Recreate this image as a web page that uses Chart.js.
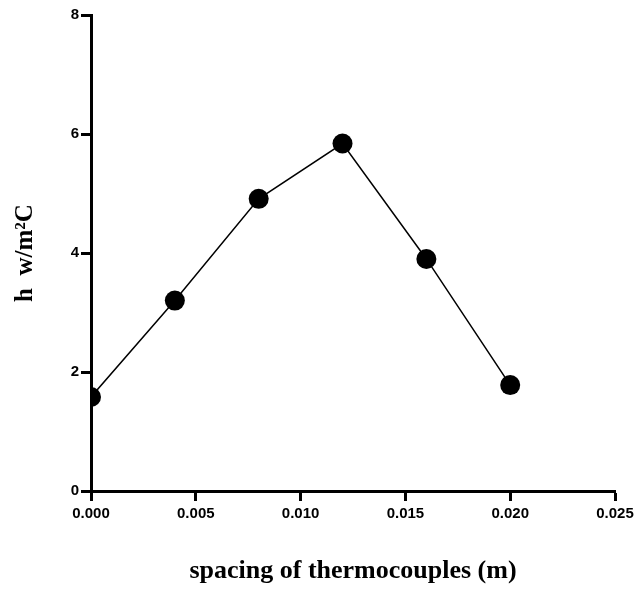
<!DOCTYPE html>
<html>
<head>
<meta charset="utf-8">
<script src="https://cdn.jsdelivr.net/npm/chart.js@4/dist/chart.umd.min.js"></script>
<style>
  html, body { margin: 0; padding: 0; background: #fff; }
  #wrap { width: 635px; height: 590px; position: relative; }
</style>
</head>
<body>
<div id="wrap"><canvas id="chart"></canvas></div>
<script>
// spacing (m) and heat transfer coefficient values
const spacing = [0.000, 0.004, 0.008, 0.012, 0.016, 0.020];
const hValues = [1.58, 3.20, 4.91, 5.84, 3.90, 1.78];
const xTitle = 'spacing of thermocouples (m)';
const yTitle = 'h  w/m\u00B2C';

document.addEventListener('DOMContentLoaded', function() {
    const ctx = document.getElementById('chart').getContext('2d');

    const points = spacing.map((x, i) => ({ x: x, y: hValues[i] }));

    new Chart(ctx, {
        type: 'line',
        data: {
            datasets: [{
                data: points,
                borderColor: '#000',
                borderWidth: 1.5,
                backgroundColor: '#000',
                pointRadius: 10,
                pointBorderWidth: 0,
                pointBackgroundColor: '#000',
                tension: 0,
                fill: false,
                clip: { left: 0, top: 12, right: 12, bottom: 0 }
            }]
        },
        options: {
            responsive: true,
            maintainAspectRatio: false,
            animation: false,
            layout: { padding: { left: 0, top: 15, right: 20, bottom: 0 } },
            plugins: {
                legend: { display: false },
                tooltip: { enabled: false }
            },
            scales: {
                x: {
                    type: 'linear',
                    min: 0,
                    max: 0.025,
                    afterFit: function(scale) {
                        scale.height = 99;
                        scale.paddingRight = 0; // keep the axis end at 0.025 where the reference has it
                        scale.paddingLeft = 0;
                    },
                    border: { display: true, color: '#000', width: 3 },
                    grid: {
                        drawOnChartArea: false,
                        drawTicks: true,
                        tickLength: 10,
                        tickWidth: 3,
                        tickColor: '#000'
                    },
                    ticks: {
                        stepSize: 0.005,
                        padding: 4,
                        maxRotation: 0,
                        color: '#000',
                        font: { family: 'Liberation Sans', size: 15, weight: 'bold' },
                        callback: v => Number(v).toFixed(3)
                    },
                    title: {
                        display: true,
                        text: xTitle,
                        color: '#000',
                        font: { family: 'Liberation Serif', size: 26, weight: 'bold' },
                        padding: { top: 0, bottom: 3 }
                    }
                },
                y: {
                    min: 0,
                    max: 8,
                    afterFit: function(scale) { scale.width = 91; },
                    border: { display: true, color: '#000', width: 3 },
                    grid: {
                        drawOnChartArea: false,
                        drawTicks: true,
                        tickLength: 10,
                        tickWidth: 3,
                        tickColor: '#000'
                    },
                    ticks: {
                        stepSize: 2,
                        padding: 2,
                        color: '#000',
                        font: { family: 'Liberation Sans', size: 15, weight: 'bold' }
                    },
                    title: {
                        display: true,
                        text: yTitle,
                        color: '#000',
                        font: { family: 'Liberation Serif', size: 25, weight: 'bold' },
                        padding: { top: 11, bottom: 0 }
                    }
                }
            }
        }
    });
});
</script>
</body>
</html>
